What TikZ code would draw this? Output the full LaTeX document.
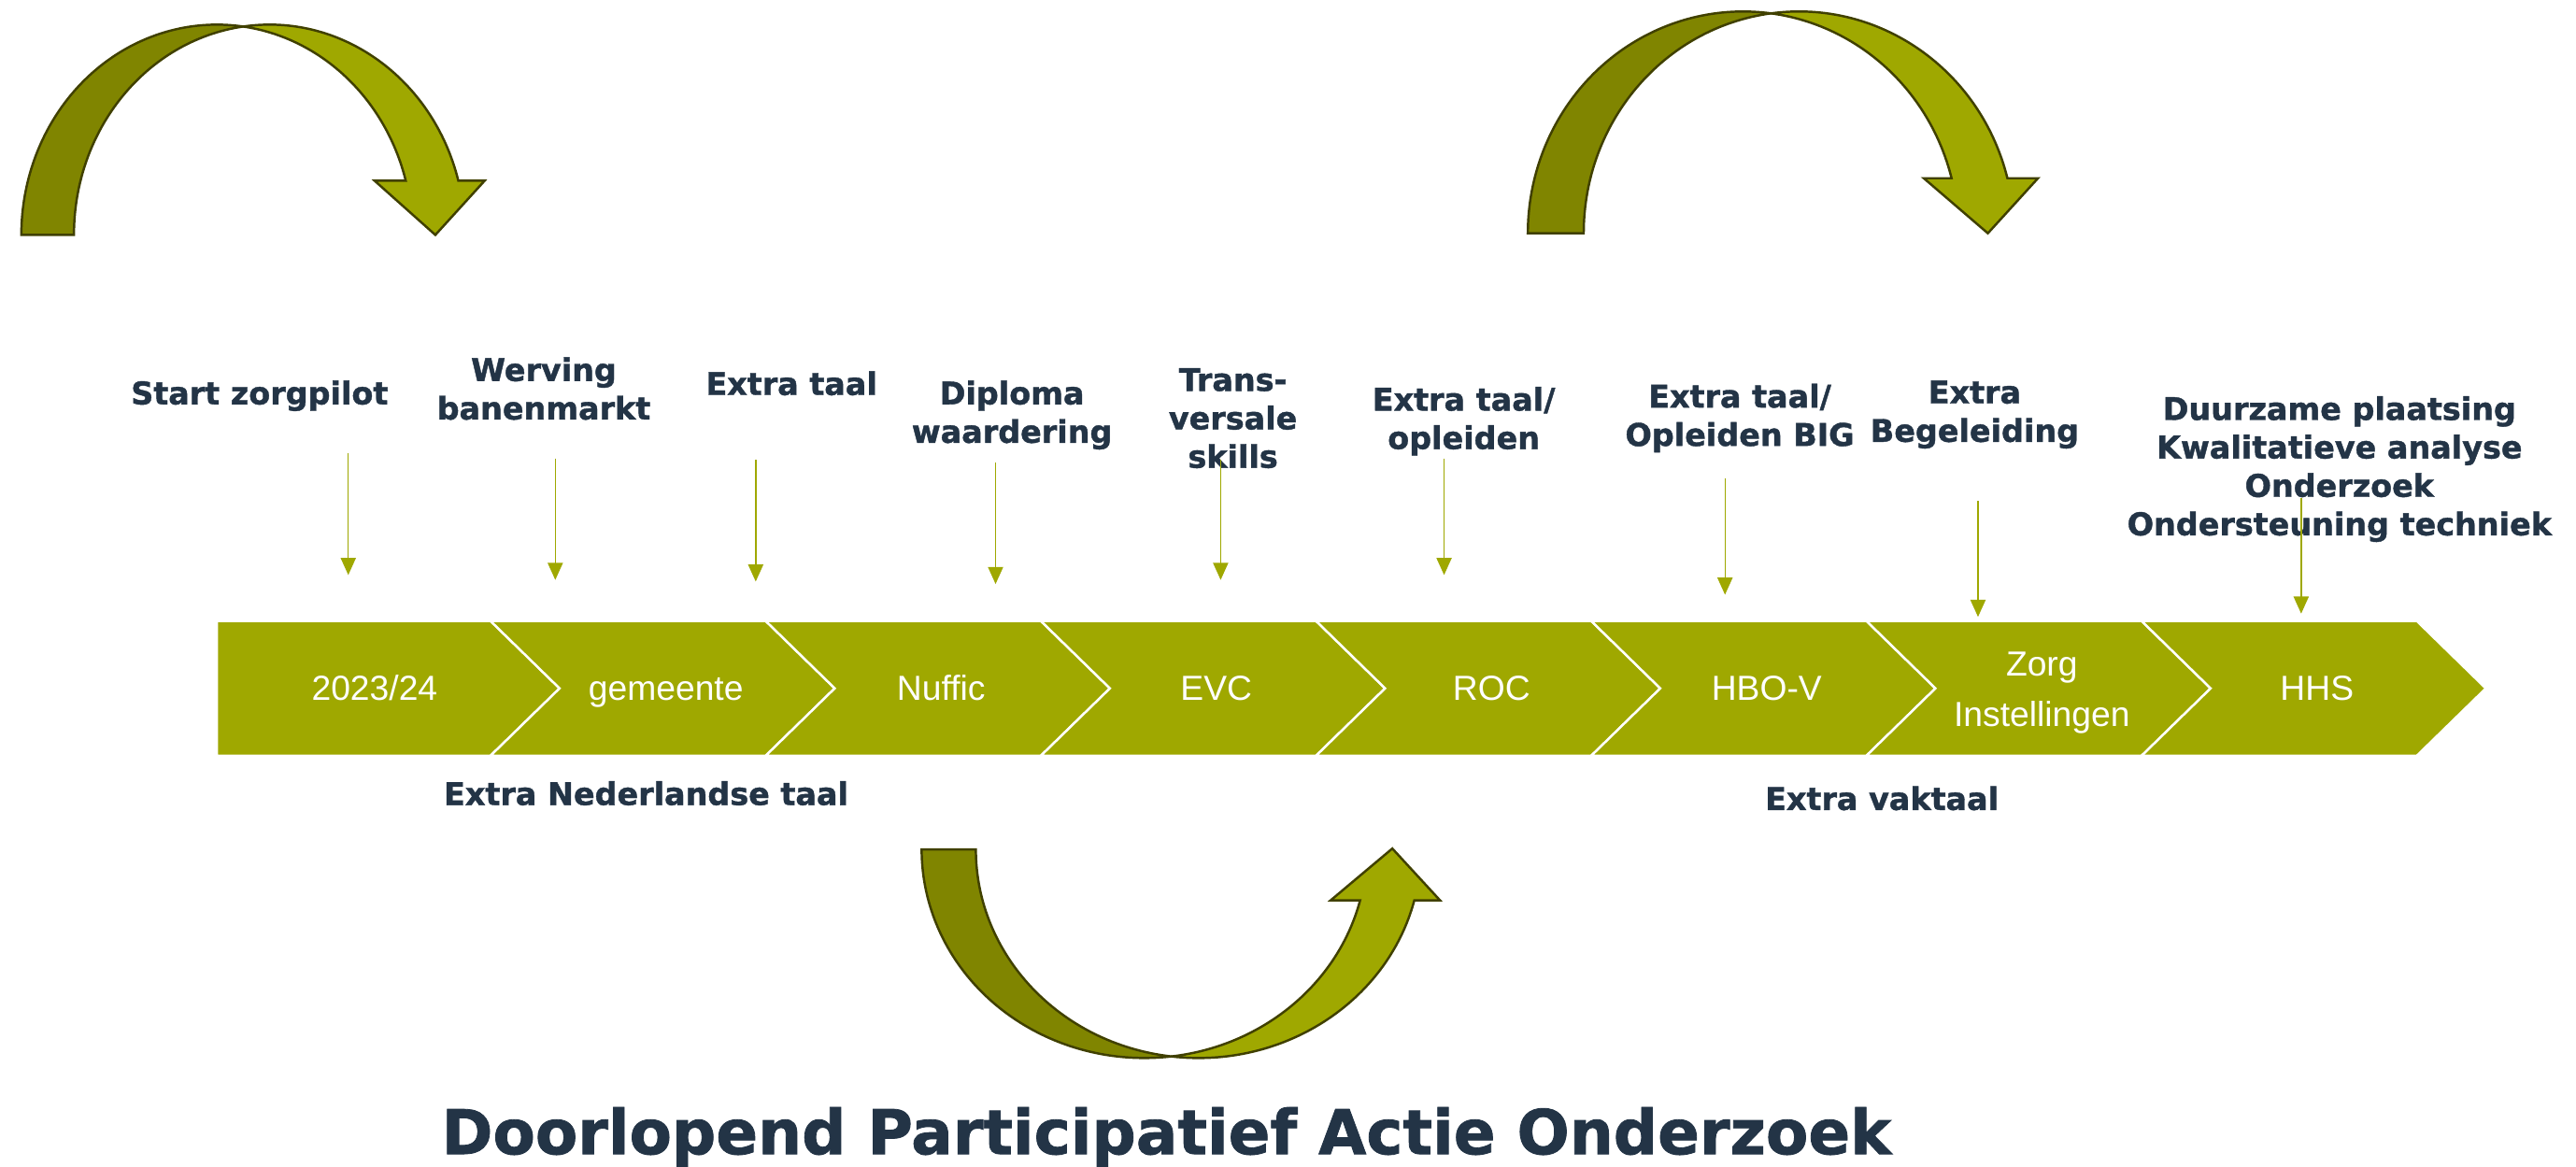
\documentclass[tikz,border=0pt]{standalone}
\usepackage{fontspec}
\setmainfont{Liberation Sans}
\newfontfamily\heavyfont{DejaVu Sans}[BoldFeatures={FakeBold=1.2}]
\usetikzlibrary{arrows.meta}

\definecolor{olivebar}{RGB}{159,168,0}
\definecolor{olivedark}{RGB}{128,133,0}
\definecolor{oliveline}{RGB}{64,64,0}
\definecolor{navytext}{RGB}{35,52,70}
\def\pxu{0.1758mm}

\tikzset{
  chev/.style={fill=olivebar, draw=white, line width=0.7pt, line join=miter},
  bandlabel/.style={text=white, inner sep=0pt, align=center,
    font={\fontsize{10.6pt}{15.5pt}\selectfont}},
  steplabel/.style={text=navytext, inner sep=0pt, align=center, anchor=north,
    font={\heavyfont\bfseries\fontsize{9.5pt}{11.7pt}\selectfont}},
  sidelabel/.style={text=navytext, inner sep=0pt, anchor=base,
    font={\heavyfont\bfseries\fontsize{9.5pt}{11.7pt}\selectfont}},
  titlelabel/.style={text=navytext, inner sep=0pt, anchor=base,
    font={\heavyfont\bfseries\fontsize{18.8pt}{22pt}\selectfont}},
  pointer/.style={draw=olivebar, line width=0.4pt,
    -{Triangle[length=5.2pt,width=4.6pt]}},
  bendtail/.style={fill=olivedark, draw=oliveline, line width=0.7pt, line join=miter},
  bendhead/.style={fill=olivebar, draw=oliveline, line width=0.7pt, line join=miter},
}

\begin{document}
\begin{tikzpicture}[x=0.1758mm, y=0.1758mm]
\fill[white] (0,0) rectangle (1568,-710);
\useasboundingbox (0,0) rectangle (1568,-710);

% ---- curved arrow, top left (two overlapping elliptic bands) ----
\path[bendtail] (13,-143)
  arc[start angle=180, end angle=82.27, x radius=119*\pxu, y radius=128*\pxu]
  arc[start angle=97.73, end angle=180, x radius=119*\pxu, y radius=128*\pxu]
  -- cycle;
\path[bendhead] (148,-16.16)
  arc[start angle=97.73, end angle=14.94, x radius=119*\pxu, y radius=128*\pxu]
  -- (295,-110) -- (265,-143) -- (228,-110) -- (246.98,-110)
  arc[start angle=14.94, end angle=82.27, x radius=119*\pxu, y radius=128*\pxu]
  -- cycle;

% ---- curved arrow, top right ----
\path[bendtail] (930,-142)
  arc[start angle=180, end angle=82.544, x radius=131*\pxu, y radius=135*\pxu]
  arc[start angle=97.456, end angle=180, x radius=131*\pxu, y radius=135*\pxu]
  -- cycle;
\path[bendhead] (1078,-8.14)
  arc[start angle=97.456, end angle=14.368, x radius=131*\pxu, y radius=135*\pxu]
  -- (1240.5,-108.5) -- (1210,-142) -- (1171,-108.5) -- (1187.9,-108.5)
  arc[start angle=14.368, end angle=82.544, x radius=131*\pxu, y radius=135*\pxu]
  -- cycle;

% ---- curved arrow, bottom (opening upwards) ----
\path[bendtail] (561,-517)
  arc[start angle=180, end angle=276.994, x radius=135.5*\pxu, y radius=127*\pxu]
  arc[start angle=263.006, end angle=180, x radius=135.5*\pxu, y radius=127*\pxu]
  -- cycle;
\path[bendhead] (713,-643.06)
  arc[start angle=263.006, end angle=345.87, x radius=135.5*\pxu, y radius=127*\pxu]
  -- (876.5,-548) -- (847.5,-516.5) -- (810,-548) -- (827.9,-548)
  arc[start angle=345.87, end angle=276.994, x radius=135.5*\pxu, y radius=127*\pxu]
  -- cycle;

% ---- chevron band ----
\path[chev] (132,-378) -- (298.6,-378) -- (340.6,-419) -- (298.6,-460) -- (132,-460) -- cycle;
\foreach \i in {1,...,7}{
  \pgfmathsetmacro\L{298.6+167.5*(\i-1)}
  \pgfmathsetmacro\R{\L+167.5}
  \path[chev] (\L,-378) -- (\R,-378) -- ({\R+42},-419) -- (\R,-460)
    -- (\L,-460) -- ({\L+42},-419) -- cycle;
}

% ---- labels inside the band ----
\node[bandlabel, anchor=base] (b0) at (228,-426) {2023/24};
\node[bandlabel, anchor=base] (b1) at (405.35,-426) {gemeente};
\node[bandlabel, anchor=base] (b2) at (572.85,-426) {Nuffic};
\node[bandlabel, anchor=base] (b3) at (740.35,-426) {EVC};
\node[bandlabel, anchor=base] (b4) at (907.85,-426) {ROC};
\node[bandlabel, anchor=base] (b5) at (1075.35,-426) {HBO-V};
\node[bandlabel, anchor=north] (b6) at (1242.85,-396.3) {Zorg\\Instellingen};
\node[bandlabel, anchor=base] (b7) at (1410.35,-426) {HHS};

% ---- step labels above the band ----
\node[steplabel] (s1) at (158,-231.3) {Start zorgpilot};
\node[steplabel] (s2) at (331,-217.1) {Werving\\banenmarkt};
\node[steplabel] (s3) at (481.8,-225.6) {Extra taal};
\node[steplabel] (s4) at (616,-231.3) {Diploma\\waardering};
\node[steplabel] (s5) at (750.5,-223.7) {Trans-\\versale\\skills};
\node[steplabel] (s6) at (891,-235.1) {Extra taal/\\opleiden};
\node[steplabel] (s7) at (1059,-233.2) {Extra taal/\\Opleiden BIG};
\node[steplabel] (s8) at (1202,-231.3) {Extra\\Begeleiding};
\node[steplabel] (s9) at (1424,-240.8) {Duurzame plaatsing\\Kwalitatieve analyse\\Onderzoek\\Ondersteuning techniek};

% ---- labels below the band ----
\node[sidelabel] (n1) at (393.3,-490) {Extra Nederlandse taal};
\node[sidelabel] (n2) at (1145.5,-493) {Extra vaktaal};
\node[titlelabel] (title) at (710,-702.5) {Doorlopend Participatief Actie Onderzoek};

% ---- thin pointers ----
\coordinate (p1a) at (212,-276);    \coordinate (p1b) at (212,-350);
\coordinate (p2a) at (338,-279);    \coordinate (p2b) at (338,-353);
\coordinate (p3a) at (460,-280);    \coordinate (p3b) at (460,-354);
\coordinate (p4a) at (606,-281.6);  \coordinate (p4b) at (606,-355.5);
\coordinate (p5a) at (743,-279.7);  \coordinate (p5b) at (743,-353);
\coordinate (p6a) at (879,-279);    \coordinate (p6b) at (879,-350);
\coordinate (p7a) at (1050,-291);   \coordinate (p7b) at (1050,-362);
\coordinate (p8a) at (1204,-305);   \coordinate (p8b) at (1204,-375.5);
\coordinate (p9a) at (1400.7,-303); \coordinate (p9b) at (1400.7,-373.5);
\foreach \k in {1,...,9}{
  \draw[pointer] (p\k a) -- (p\k b);
}
\end{tikzpicture}
\end{document}
